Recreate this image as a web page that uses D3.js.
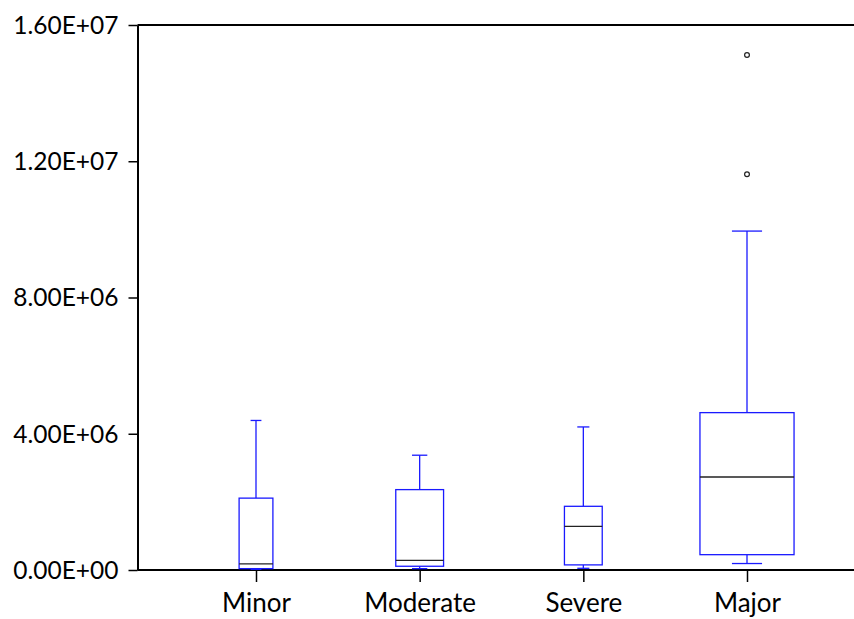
<!DOCTYPE html>
<html lang="en">
<head>
  <meta charset="UTF-8">
  <title>Box plot</title>
  <style>
    body { margin: 0; background: #fff; }
    svg { display: block; }
    text { font-family: Lato, "Open Sans", sans-serif; fill: #000; }
  </style>
</head>
<body>
  <svg width="854" height="619"></svg>
  <script src="https://cdnjs.cloudflare.com/ajax/libs/d3/7.8.5/d3.min.js"></script>
  <script>
  // values
  const categories = ["Minor", "Moderate", "Severe", "Major"];
  const whiskerLow = [0.02e6, 0.04e6, 0.05e6, 0.19e6];
  const q1         = [0.04e6, 0.11e6, 0.15e6, 0.45e6];
  const median     = [0.18e6, 0.28e6, 1.28e6, 2.73e6];
  const q3         = [2.11e6, 2.36e6, 1.87e6, 4.62e6];
  const whiskerHigh = [4.39e6, 3.37e6, 4.20e6, 9.95e6];
  const obsCount   = [4, 8, 5, 31];   // box width ~ sqrt(n)
  const outliers   = [[], [], [], [11.62e6, 15.12e6]];
  const yTicks     = [0, 4e6, 8e6, 12e6, 16e6];

  const boxes = categories.map((c, i) => ({
    cat: c, lo: whiskerLow[i], q1: q1[i], med: median[i], q3: q3[i],
    hi: whiskerHigh[i], n: obsCount[i], out: outliers[i]
  }));

  const svg = d3.select("svg");
  const mLeft = 137.5, mTop = 25, mBottom = 570, mRight = 860;

  const y = d3.scaleLinear().domain([0, 16e6]).range([mBottom, mTop]);
  const x = d3.scalePoint().domain(categories).range([256, 747]);
  const wUnit = 16.9;
  const bw = d => wUnit * Math.sqrt(d.n);

  function sci(d) {
    const [m, e] = d.toExponential(2).split("e");
    const sign = e[0] === "-" ? "-" : "+";
    const p = Math.abs(+e);
    return m + "E" + sign + (p < 10 ? "0" : "") + p;
  }

  // y axis
  const yAxis = svg.append("g")
    .attr("transform", `translate(${mLeft},0)`)
    .call(d3.axisLeft(y).tickValues(yTicks).tickSize(9).tickSizeOuter(0).tickFormat(sci));
  yAxis.select(".domain").attr("stroke", "#000").attr("stroke-width", 2);
  yAxis.selectAll(".tick line").attr("stroke", "#000").attr("stroke-width", 1.5);
  yAxis.selectAll(".tick text")
    .attr("x", -19).attr("dy", "0.34em").attr("fill", "#000")
    .style("font-size", "24.5px").style("font-family", "Lato, 'Open Sans', sans-serif");

  // x axis
  const xAxis = svg.append("g")
    .attr("transform", `translate(0,${mBottom})`)
    .call(d3.axisBottom(x).tickSize(12).tickSizeOuter(0));
  xAxis.select(".domain").remove();
  xAxis.selectAll(".tick line").attr("stroke", "#000").attr("stroke-width", 1.5);
  xAxis.selectAll(".tick text")
    .attr("y", 42).attr("dy", 0).attr("fill", "#000")
    .style("font-size", "26px").style("font-family", "Lato, 'Open Sans', sans-serif");

  // frame lines
  svg.append("line").attr("x1", mLeft).attr("x2", mRight)
    .attr("y1", y(0)).attr("y2", y(0)).attr("stroke", "#000").attr("stroke-width", 2);
  svg.append("line").attr("x1", mLeft).attr("x2", mRight)
    .attr("y1", y(16e6)).attr("y2", y(16e6)).attr("stroke", "#000").attr("stroke-width", 2);

  const blue = "#1a1aff";
  const g = svg.append("g").selectAll("g").data(boxes).join("g")
    .attr("transform", d => `translate(${x(d.cat)},0)`);

  // whiskers
  g.append("line").attr("x1", 0).attr("x2", 0)
    .attr("y1", d => y(d.q3)).attr("y2", d => y(d.hi))
    .attr("stroke", blue).attr("stroke-width", 1.3);
  g.append("line").attr("x1", 0).attr("x2", 0)
    .attr("y1", d => y(d.q1)).attr("y2", d => y(d.lo))
    .attr("stroke", blue).attr("stroke-width", 1.3);
  g.append("line")
    .attr("x1", d => -bw(d) * 0.16).attr("x2", d => bw(d) * 0.16)
    .attr("y1", d => y(d.hi)).attr("y2", d => y(d.hi))
    .attr("stroke", blue).attr("stroke-width", 1.3);
  g.append("line")
    .attr("x1", d => -bw(d) * 0.16).attr("x2", d => bw(d) * 0.16)
    .attr("y1", d => y(d.lo)).attr("y2", d => y(d.lo))
    .attr("stroke", blue).attr("stroke-width", 1.3);

  // boxes
  g.append("rect")
    .attr("x", d => -bw(d) / 2).attr("width", bw)
    .attr("y", d => y(d.q3)).attr("height", d => y(d.q1) - y(d.q3))
    .attr("fill", "#fff").attr("stroke", blue).attr("stroke-width", 1.3);

  // medians
  g.append("line")
    .attr("x1", d => -bw(d) / 2).attr("x2", d => bw(d) / 2)
    .attr("y1", d => y(d.med)).attr("y2", d => y(d.med))
    .attr("stroke", "#222").attr("stroke-width", 1.3);

  // outliers
  g.selectAll("circle").data(d => d.out).join("circle")
    .attr("cx", 0).attr("cy", v => y(v)).attr("r", 2.4)
    .attr("fill", "none").attr("stroke", "#222").attr("stroke-width", 1.2);
  </script>
</body>
</html>
